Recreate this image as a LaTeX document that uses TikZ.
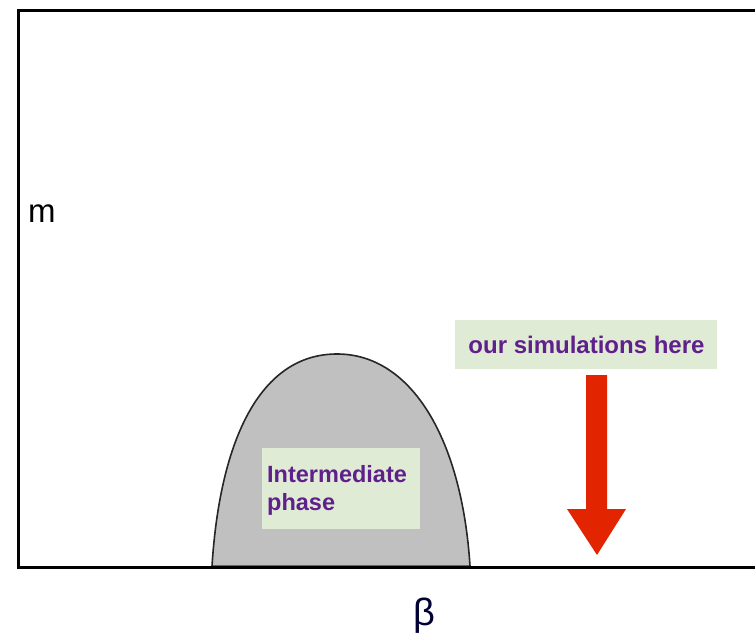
\documentclass[tikz,border=0pt]{standalone}
\usepackage{fontspec}
\setmainfont{Liberation Sans}
\definecolor{boxgreen}{RGB}{224,235,213}
\definecolor{labpurple}{RGB}{96,32,140}
\definecolor{arrowred}{RGB}{226,36,0}
\definecolor{humpgray}{RGB}{192,192,192}
\tikzset{
  frameline/.style={line width=3pt, line cap=butt},
  labelbox/.style={fill=boxgreen, draw=none, inner sep=0pt},
  labtext/.style={text=labpurple, font=\fontsize{23.5}{28}\selectfont\bfseries, inner sep=0pt},
}
\begin{document}
\begin{tikzpicture}[x=1pt,y=-1pt]
\useasboundingbox (0,0) rectangle (755,636);
\fill[white] (0,0) rectangle (755,636);
% hump
\filldraw[fill=humpgray, draw=black!85, line width=1.6pt]
  (212,566) .. controls (220,440) and (260,354) .. (337,354)
  .. controls (412,354) and (462,440) .. (470,566) -- cycle;
\draw[black!60, line width=2pt] (213,565.5) -- (469,565.5);
% frame
\coordinate (tr) at (755,10.5);
\coordinate (br) at (755,567.5);
\draw[frameline] (17,10.5) -- (tr);
\draw[frameline] (18.5,9) -- (18.5,569);
\draw[frameline] (17,567.5) -- (br);
% intermediate box
\node[labelbox, minimum width=158pt, minimum height=81pt] (ibox) at (341,488.5) {};
\node[labtext, anchor=base west] (t1) at (267,482) {Intermediate};
\node[labtext, anchor=base west] (t2) at (267,510) {phase};
% simulations box
\node[labelbox, minimum width=262pt, minimum height=49pt] (sbox) at (586,344.5) {};
\node[labtext, font=\fontsize{24}{28}\selectfont\bfseries] (stext) at (586.5,344.5) {our simulations here};
% arrow
\coordinate (atip) at (597,555);
\fill[arrowred] (586,375) -- (607,375) -- (607,509) -- (626,509) -- (atip) -- (567,509) -- (586,509) -- cycle;
% axis labels
\node[inner sep=0pt, font=\fontsize{33}{33}\selectfont, anchor=base west] (mlab) at (28,223) {m};
\node[inner sep=0pt, font=\fontsize{38}{38}\selectfont, text=black!80!blue] (blab) at (424,616) {β};
\end{tikzpicture}
\end{document}
